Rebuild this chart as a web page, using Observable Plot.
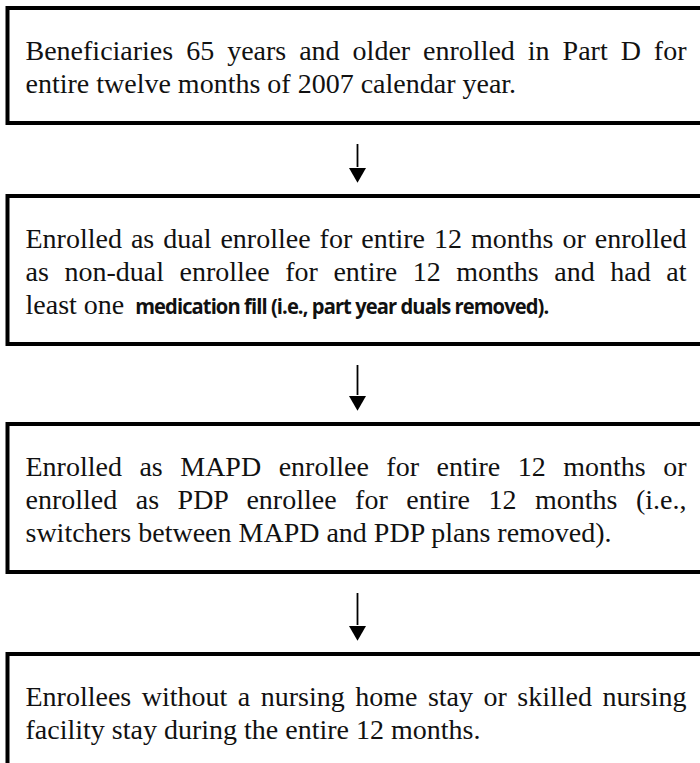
<!DOCTYPE html>
<html>
<head>
<meta charset="utf-8">
<script src="https://cdn.jsdelivr.net/npm/d3@7"></script>
<script src="https://cdn.jsdelivr.net/npm/@observablehq/plot@0.6"></script>
<style>
  html, body { margin: 0; padding: 0; background: white; overflow: hidden; }
  #chart { width: 700px; height: 763px; overflow: hidden; }
</style>
</head>
<body>
<div id="chart"></div>
<script>
// ---- Data: flowchart steps (text lines as in the reference) ----
const step1Lines = [
  "Beneficiaries 65 years and older enrolled in Part D for",
  "entire twelve months of 2007 calendar year."
];
const step2Lines = [
  "Enrolled as dual enrollee for entire 12 months or enrolled",
  "as non-dual enrollee for entire 12 months and had at",
  "least one"
];
const step2BoldTail = "medication fill (i.e., part year duals removed).";
const step3Lines = [
  "Enrolled as MAPD enrollee for entire 12 months or",
  "enrolled as PDP enrollee for entire 12 months (i.e.,",
  "switchers between MAPD and PDP plans removed)."
];
const step4Lines = [
  "Enrollees without a nursing home stay or skilled nursing",
  "facility stay during the entire 12 months."
];
const steps = [step1Lines, step2Lines, step3Lines, step4Lines];

// ---- Layout (pixels) ----
const W = 700, H = 763;
const FS = 28;             // serif font size
const firstTop = 8;        // top of first box
const padTop = 51;         // box top -> first baseline
const lineH = 33;          // baseline to baseline
const padBottom = 31;      // last baseline -> box bottom
const gaps = [73, 80, 82]; // box bottom -> next box top
const boxLeft = 7.5, boxRight = 730;
const textLeft = 25, textRight = 686;
const boldGap = 4, boldWidth = 413;
const arrowX = 357, arrowTopPad = 21, arrowBottomPad = 18;

const boxes = [];
const lines = [];
let cursorY = firstTop;
steps.forEach((ls, i) => {
  const bottom = cursorY + padTop + (ls.length - 1) * lineH + padBottom;
  boxes.push({step: i, y1: cursorY, y2: i === steps.length - 1 ? H + 40 : bottom});
  ls.forEach((t, j) => {
    lines.push({step: i, text: t, baseline: cursorY + padTop + j * lineH,
                justify: j < ls.length - 1});
  });
  cursorY = bottom + (gaps[i] || 0);
});
const arrows = boxes.slice(0, -1).map((b, i) => ({
  y1: b.y2 + arrowTopPad,
  y2: boxes[i + 1].y1 - arrowBottomPad
}));

const serif = "'Liberation Serif', 'Times New Roman', serif";

const chart = Plot.plot({
  width: W, height: H,
  margin: 0,
  x: {domain: [0, W], range: [0, W], axis: null},
  y: {domain: [0, H], range: [0, H], axis: null},
  marks: [
    Plot.rect(boxes, {x1: () => boxLeft, x2: () => boxRight, y1: "y1", y2: "y2",
      fill: "white", stroke: "black", strokeWidth: 4}),
    Plot.ruleX(arrows, {x: () => arrowX, y1: "y1", y2: d => d.y2 - 11, stroke: "black", strokeWidth: 1.8}),
    Plot.dot(arrows, {x: () => arrowX, y: d => d.y2 - 5.5, symbol: "triangle", rotate: 180,
      r: 6.3, fill: "black", stroke: "none"}),
    Plot.text(lines, {x: () => textLeft, y: d => d.baseline - 0.32 * FS,
      text: "text", textAnchor: "start", fontSize: FS, fontFamily: serif, fill: "#111"})
  ]
});
document.getElementById("chart").append(chart);

const lineByText = new Map(lines.map(d => [d.text, d]));
chart.querySelectorAll("text").forEach(t => {
  const d = lineByText.get(t.textContent);
  if (!d) return;
  if (d.justify) {
    // Justify full lines by distributing extra space between words
    const len = t.getComputedTextLength();
    const spaces = (t.textContent.match(/ /g) || []).length;
    if (spaces > 0) t.style.wordSpacing = ((textRight - textLeft - len) / spaces) + "px";
  } else if (d.text === step2Lines[step2Lines.length - 1]) {
    // Bold sans tail of step 2's last line
    t.textContent = d.text + " ";
    const ts = document.createElementNS("http://www.w3.org/2000/svg", "tspan");
    ts.setAttribute("font-family", "'Open Sans', 'DejaVu Sans', sans-serif");
    ts.setAttribute("font-weight", "bold");
    ts.setAttribute("font-size", 22);
    ts.setAttribute("letter-spacing", "-1");
    ts.setAttribute("dx", boldGap);
    ts.setAttribute("textLength", boldWidth);
    ts.setAttribute("lengthAdjust", "spacingAndGlyphs");
    ts.textContent = step2BoldTail;
    t.appendChild(ts);
  }
});
</script>
</body>
</html>
